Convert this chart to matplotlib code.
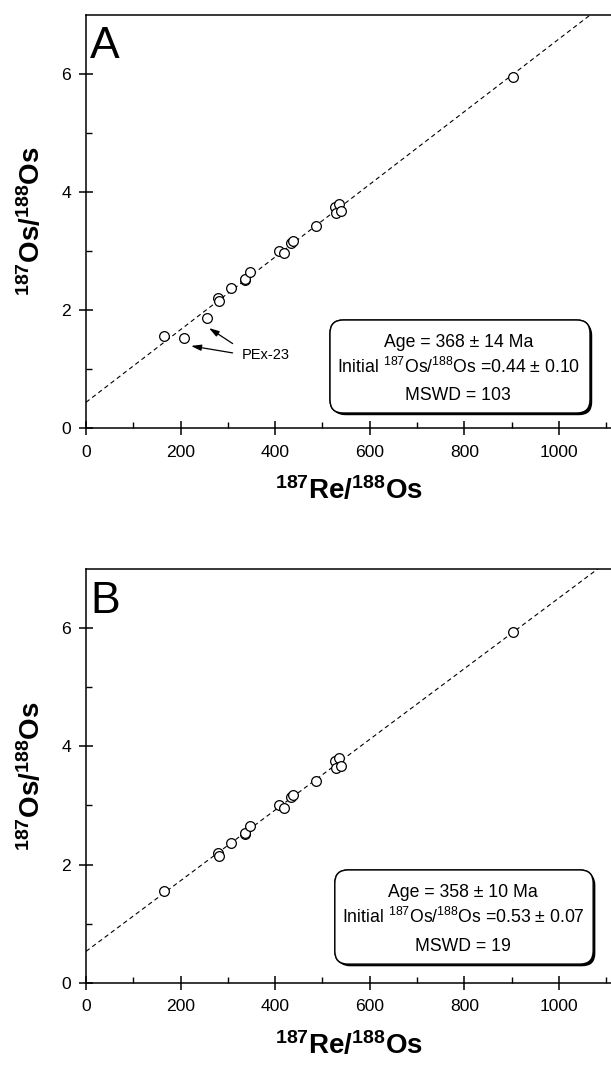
import matplotlib
matplotlib.use("Agg")
import matplotlib.pyplot as plt
import matplotlib.patheffects as pe
from matplotlib.patches import FancyBboxPatch
import numpy as np

plt.rcParams["font.family"] = ["Liberation Sans", "DejaVu Sans"]
plt.rcParams["mathtext.fontset"] = "custom"
plt.rcParams["mathtext.rm"] = "Liberation Sans"
plt.rcParams["mathtext.bf"] = "Liberation Sans:bold"
plt.rcParams["mathtext.it"] = "Liberation Sans:italic"

# samples used in both isochrons
re_ratio = [164, 279, 281, 306, 336, 337, 347, 408, 418, 433, 437, 486, 527, 535, 528, 539, 903]
os_ratio = [1.56, 2.20, 2.15, 2.37, 2.51, 2.53, 2.65, 3.00, 2.96, 3.14, 3.17, 3.42, 3.75, 3.80, 3.64, 3.67, 5.94]
# PEx-23 samples, only in A
pex_re = [207, 255]
pex_os = [1.525, 1.86]

panels = ["A", "B"]
ages = [368, 358]
age_txt = ["368 ± 14", "358 ± 10"]
initials = [0.44, 0.53]
initial_txt = ["0.44 ± 0.10", "0.53 ± 0.07"]
mswd = [103, 19]
lam = 1.666e-11  # 187Re decay constant

W, H = 611, 1066
fig = plt.figure(figsize=(W / 100, H / 100), dpi=100)

ax_top = [428.3, 982.7]    # pixel row of y=0 axis
ax_h = 413.6
box_y = [(0.037, 0.2618), (0.045, 0.2726)]
box_x = [(0.4648, 0.96), (0.474, 0.966)]
txt_x = [0.709, 0.718]
txt_y = [(0.197, 0.1344, 0.0684), (0.2076, 0.1437, 0.0774)]

for i, name in enumerate(panels):
    ax = fig.add_axes([86 / W, 1 - ax_top[i] / H, 525 / W, ax_h / H])
    ax.set_xlim(0, 1110)
    ax.set_ylim(0, 7)

    slope = np.exp(lam * ages[i] * 1e6) - 1
    xl = np.array([0, 1110])
    ax.plot(xl, initials[i] + slope * xl, color="k", lw=0.8, dashes=(4, 3), zorder=2)

    xs, ys = list(re_ratio), list(os_ratio)
    if name == "A":
        xs += pex_re
        ys += pex_os
    ax.plot(xs, ys, "o", ms=7, mfc="white", mec="k", mew=0.9, zorder=3)

    if name == "A":
        arrow = dict(arrowstyle="-|>,head_length=0.6,head_width=0.18",
                     lw=0.9, color="k", shrinkA=0, shrinkB=0)
        ax.annotate("", xy=(222, 1.394), xytext=(310, 1.276), arrowprops=arrow)
        ax.annotate("", xy=(260, 1.697), xytext=(310, 1.434), arrowprops=arrow)
        ax.text(379, 1.237, "PEx-23", ha="center", va="center", fontsize=10.5)

    # stats box
    x0, x1 = box_x[i]
    y0, y1 = box_y[i]
    box = FancyBboxPatch((x0, y0), x1 - x0, y1 - y0,
                         boxstyle="round,pad=0,rounding_size=0.025",
                         mutation_aspect=525 / ax_h, transform=ax.transAxes,
                         fc="white", ec="k", lw=1.0, zorder=4)
    box.set_path_effects([pe.withSimplePatchShadow(offset=(1.6, -1.6), shadow_rgbFace="k", alpha=1),
                          pe.Normal()])
    ax.add_patch(box)
    lines = [f"Age = {age_txt[i]} Ma",
             r"Initial ${}^{187}$Os/${}^{188}$Os =" + initial_txt[i],
             f"MSWD = {mswd[i]}"]
    for t, yy in zip(lines, txt_y[i]):
        ax.text(txt_x[i], yy, t, transform=ax.transAxes, ha="center", va="baseline",
                fontsize=12.7, zorder=5)

    ax.text(0.008, 0.8946, name, transform=ax.transAxes, fontsize=32, va="baseline", ha="left")

    ax.set_xticks(np.arange(0, 1001, 200))
    ax.set_xticks(np.arange(100, 1101, 200), minor=True)
    ax.set_yticks([0, 2, 4, 6])
    ax.set_yticks([1, 3, 5], minor=True)
    ax.tick_params(which="major", direction="inout", length=9.5, width=1.1, labelsize=12.6)
    ax.tick_params(which="minor", direction="in", length=4, width=1.0)
    ax.tick_params(axis="x", which="major", pad=7)
    ax.tick_params(axis="y", which="major", pad=6)
    for s in ["left", "bottom", "top"]:
        ax.spines[s].set_linewidth(1.1)
    ax.spines["right"].set_visible(False)

    ax.set_xlabel(r"$\mathbf{{}^{187}Re/{}^{188}Os}$", fontsize=20)
    ax.xaxis.set_label_coords(0.5, -0.117)
    ax.set_ylabel(r"$\mathbf{{}^{187}Os/{}^{188}Os}$", fontsize=20)
    ax.yaxis.set_label_coords(-0.076, 0.5)

fig.savefig("out.png", dpi=100)
